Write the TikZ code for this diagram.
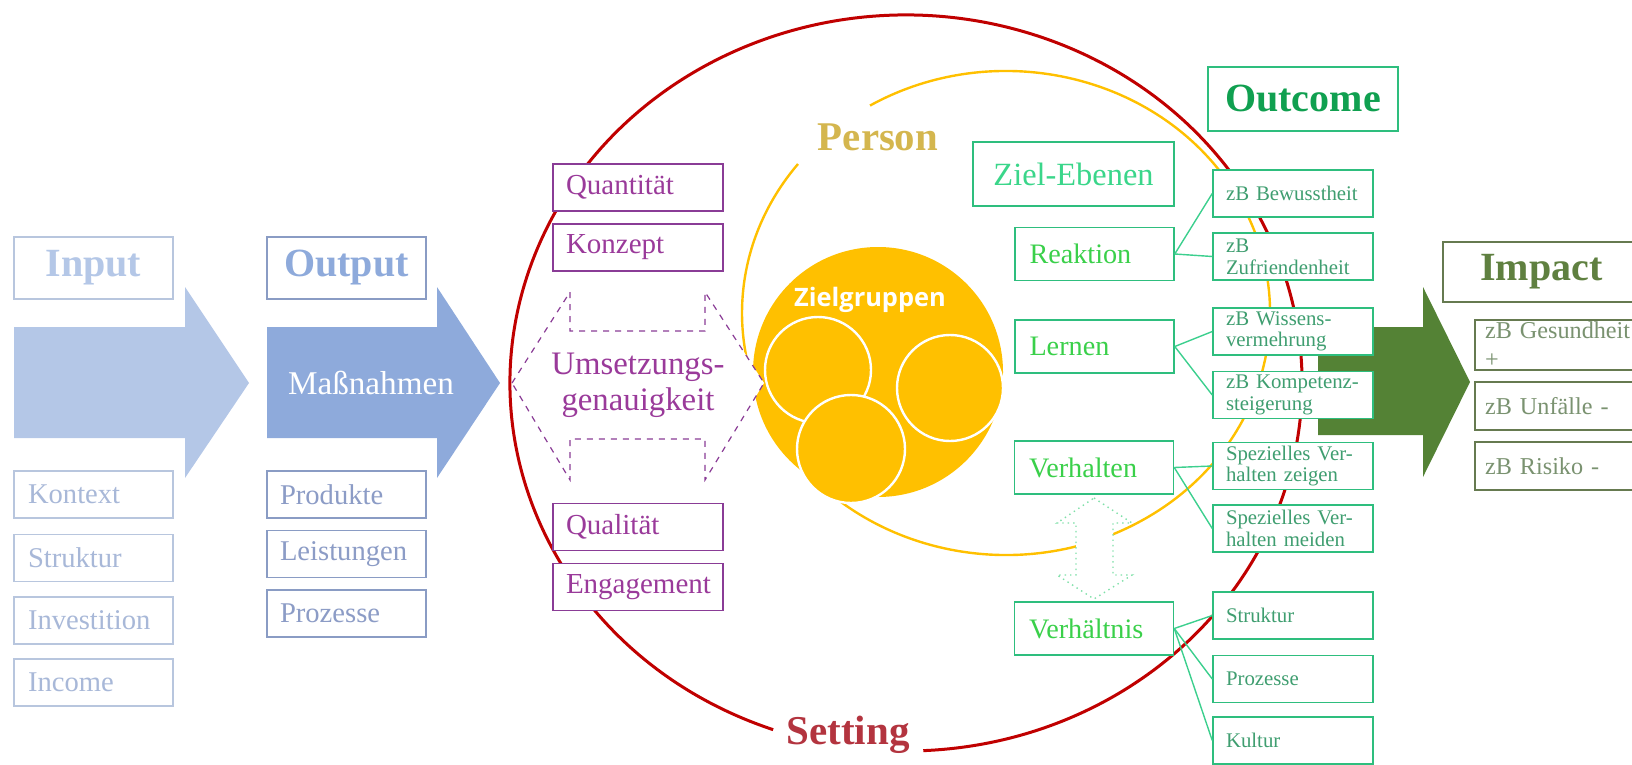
\documentclass[tikz,border=0pt]{standalone}
\usepackage{fontspec}
\setmainfont{Liberation Serif}
\newfontfamily\zgfont{Open Sans}
\definecolor{inblue}{HTML}{B4C7E7}
\definecolor{intext}{HTML}{A8B8D8}
\definecolor{inborder}{HTML}{B8C6DE}
\definecolor{outblue}{HTML}{8EAADB}
\definecolor{outtext}{HTML}{8C9CC6}
\definecolor{outborder}{HTML}{8A9CC4}
\definecolor{umsviolet}{HTML}{9A3A9A}
\definecolor{umsborder}{HTML}{8A3C96}
\definecolor{settingred}{HTML}{C00000}
\definecolor{settingtext}{HTML}{B3343F}
\definecolor{gold}{HTML}{FFC000}
\definecolor{persontext}{HTML}{D4B64E}
\definecolor{zielborder}{HTML}{2EBE7E}
\definecolor{zieltext}{HTML}{3AD04A}
\definecolor{ebenentext}{HTML}{3AD68A}
\definecolor{outcometext}{HTML}{10A050}
\definecolor{subtext}{HTML}{3F9E70}
\definecolor{edgegreen}{HTML}{3CCF8E}
\definecolor{dotgreen}{HTML}{7EE0A8}
\definecolor{impactgreen}{HTML}{548235}
\definecolor{impacttext}{HTML}{5F8040}
\definecolor{impactborder}{HTML}{667A50}
\definecolor{impactsub}{HTML}{7A9270}

\begin{document}
\begin{tikzpicture}[x=0.5pt,y=-0.5pt]
\tikzset{edge/.style = {-, line width=0.7pt, draw=edgegreen}}
\tikzset{basebox/.style = {draw, fill=white, line width=0.75pt, align=left, inner ysep=1pt}}
\tikzset{headbox/.style = {basebox, align=center, minimum height=31pt, font=\bfseries\fontsize{20}{22}\selectfont}}
\tikzset{inbox/.style = {basebox, draw=inborder, text=intext, text width=65.5pt, inner xsep=7pt, minimum height=23.5pt, font=\fontsize{14.3}{16}\selectfont}}
\tikzset{outbox/.style = {basebox, draw=outborder, text=outtext, text width=66.5pt, inner xsep=6.5pt, minimum height=23.5pt, font=\fontsize{14.3}{16}\selectfont}}
\tikzset{umsbox/.style = {basebox, draw=umsborder, text=umsviolet, text width=72pt, inner xsep=6.5pt, minimum height=23.5pt, font=\fontsize{14.5}{16}\selectfont}}
\tikzset{zielbox/.style = {basebox, draw=zielborder, text=zieltext, text width=65pt, inner xsep=7.25pt, minimum height=26.5pt, font=\fontsize{14.1}{16}\selectfont}}
\tikzset{subbox/.style = {basebox, draw=zielborder, text=subtext, text width=67pt, inner xsep=6.5pt, minimum height=23.5pt, font=\fontsize{10.4}{10.8}\selectfont}}
\tikzset{impactbox/.style = {basebox, draw=impactborder, text=impactsub, text width=90pt, inner xsep=5pt, font=\fontsize{12.1}{14.5}\selectfont}}
\useasboundingbox (0,0) rectangle (1632,765);
\clip (0,0) rectangle (1632,765);

% setting and person rings
\draw[settingred, line width=1.5pt] (906,383) ++(109.6:396 and 368) arc[start angle=109.6, end angle=447.5, x radius=396, y radius=368];
\draw[gold, line width=1.2pt] (1006,313) ++(239:264 and 242) arc[start angle=239, end angle=578, x radius=264, y radius=242];
\node[text=settingtext, font=\bfseries\fontsize{20.5}{22}\selectfont](setting) at (848,735) {Setting};
\node[text=persontext, font=\bfseries\fontsize{20.4}{22}\selectfont](person) at (878,137) {Person};

% block arrows
\fill[inblue] (14,327) -- (185,327) -- (185,287) -- (249,383) -- (185,478) -- (185,438) -- (14,438) -- cycle;
\fill[outblue] (267,327) -- (437,327) -- (437,287) -- (500,383) -- (437,478) -- (437,438) -- (267,438) -- cycle;
\fill[impactgreen] (1318,327) -- (1423,327) -- (1423,287) -- (1470,382) -- (1423,477) -- (1423,435) -- (1318,435) -- cycle;
\node[text=white, font=\fontsize{16.6}{18}\selectfont](massnahmen) at (371,383) {Maßnahmen};

% zielgruppen
\fill[gold] (878,372) circle[radius=125];
\filldraw[fill=gold, draw=white, line width=1.2pt] (818,370) circle[radius=53];
\filldraw[fill=gold, draw=white, line width=1.2pt] (950,388) circle[radius=53];
\filldraw[fill=gold, draw=white, line width=1.2pt] (851,449) circle[radius=54];
\node[text=white, font=\zgfont\bfseries\fontsize{12.7}{14}\selectfont](zielgruppen) at (870,300) {Zielgruppen};

% umsetzungsgenauigkeit
\filldraw[fill=white, draw=umsborder, dashed, line width=0.6pt] (512,383) -- (570,292) -- (570,331) -- (705,331) -- (705,292) -- (764,383) -- (705,480) -- (705,439) -- (570,439) -- (570,480) -- cycle;
\node[text=umsviolet, align=center, font=\fontsize{16.4}{18}\selectfont](umsetzung) at (638,385) {Umsetzungs-\\genauigkeit};

% verhalten <-> verhaeltnis
\filldraw[fill=white, draw=dotgreen, dotted, line width=0.7pt] (1094,498) -- (1132,523) -- (1113,523) -- (1113,575) -- (1132,575) -- (1094,599) -- (1057,575) -- (1076,575) -- (1076,523) -- (1057,523) -- cycle;

% input / output
\node[headbox, draw=inborder, text=inblue, minimum width=79.5pt](input) at (93.5,268) {Input};
\node[inbox](kontext) at (93.5,494.5) {Kontext};
\node[inbox](struktur) at (93.5,558) {Struktur};
\node[inbox](investition) at (93.5,620.5) {Investition};
\node[inbox](income) at (93.5,682.5) {Income};
\node[headbox, draw=outborder, text=outblue, minimum width=79.5pt](output) at (346.5,268) {Output};
\node[outbox](produkte) at (346.5,494.5) {Produkte};
\node[outbox](leistungen) at (346.5,554) {Leistungen};
\node[outbox](prozesse) at (346.5,613.5) {Prozesse};

% umsetzung boxes
\node[umsbox](quantitaet) at (638,187.5) {Quantität};
\node[umsbox](konzept) at (638,247.5) {Konzept};
\node[umsbox](qualitaet) at (638,527) {Qualität};
\node[umsbox](engagement) at (638,587) {Engagement};

% ziel-ebenen
\node[basebox, draw=zielborder, text=ebenentext, align=center, minimum width=100.5pt, minimum height=32pt, font=\fontsize{16.2}{18}\selectfont](ebenen) at (1073.5,174) {Ziel-Ebenen};
\node[zielbox](reaktion) at (1094.5,254) {Reaktion};
\node[zielbox](lernen) at (1094.5,346.5) {Lernen};
\node[zielbox](verhalten) at (1094,467.5) {Verhalten};
\node[zielbox](verhaeltnis) at (1094,628.5) {Verhältnis};

% outcome
\node[headbox, draw=zielborder, text=outcometext, minimum width=95pt, minimum height=32pt](outcome) at (1303,99) {Outcome};
\node[subbox](bewusst) at (1293,193.5) {zB Bewusstheit};
\node[subbox](zufrieden) at (1293,256.5) {zB\\Zufriendenheit};
\node[subbox](wissen) at (1293,331.5) {zB Wissens-\\vermehrung};
\node[subbox](kompetenz) at (1293,395) {zB Kompetenz-\\steigerung};
\node[subbox](zeigen) at (1293,466) {Spezielles Ver-\\halten zeigen};
\node[subbox](meiden) at (1293,528.5) {Spezielles Ver-\\halten meiden};
\node[subbox](vstruktur) at (1293,615.5) {Struktur};
\node[subbox](vprozesse) at (1293,679) {Prozesse};
\node[subbox](kultur) at (1293,740.5) {Kultur};

% impact
\node[headbox, draw=impactborder, text=impacttext, minimum width=98.5pt, minimum height=30pt](impact) at (1541.5,272) {Impact};
\node[impactbox, minimum height=25pt](gesundheit) at (1575,345) {zB Gesundheit\\+};
\node[impactbox, minimum height=24pt](unfaelle) at (1575,406) {zB Unfälle -};
\node[impactbox, minimum height=24pt](risiko) at (1575,466) {zB Risiko -};

\draw[edge] (reaktion.east) to (bewusst.west);
\draw[edge] (reaktion.east) to (zufrieden.west);
\draw[edge] (lernen.east) to (wissen.west);
\draw[edge] (lernen.east) to (kompetenz.west);
\draw[edge] (verhalten.east) to (zeigen.west);
\draw[edge] (verhalten.east) to (meiden.west);
\draw[edge] (verhaeltnis.east) to (vstruktur.west);
\draw[edge] (verhaeltnis.east) to (vprozesse.west);
\draw[edge] (verhaeltnis.east) to (kultur.west);
\end{tikzpicture}
\end{document}
